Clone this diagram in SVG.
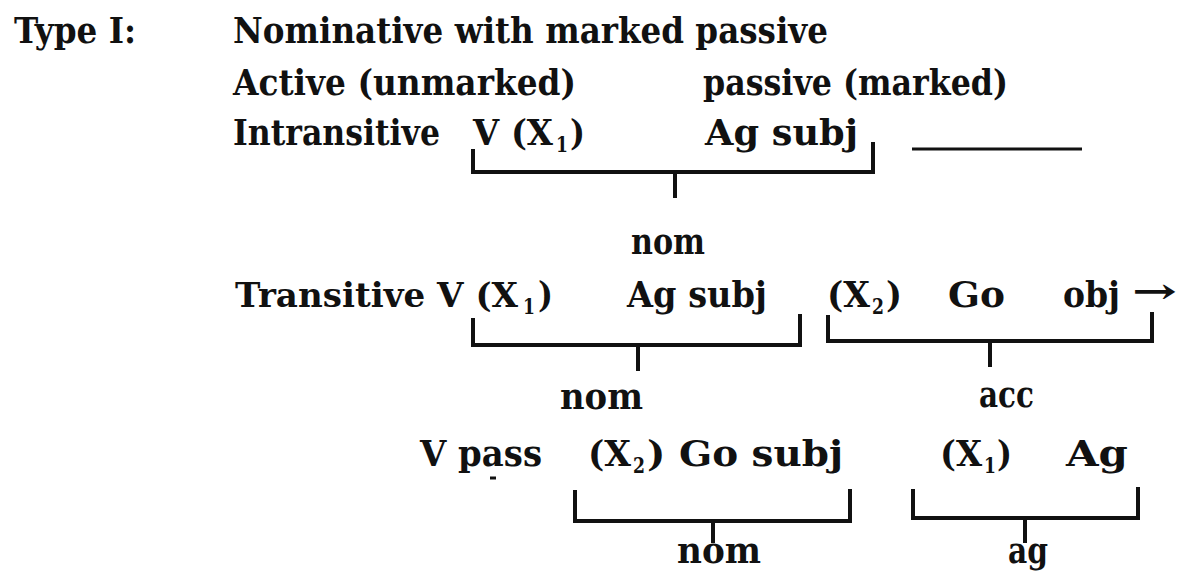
<svg xmlns="http://www.w3.org/2000/svg" width="1189" height="574" viewBox="0 0 1189 574">
<style>
text{font-family:"DejaVu Serif","Liberation Serif",serif;font-weight:bold;font-size:35px;fill:#111}
text.sub{font-size:22px}
.br{fill:none;stroke:#111;stroke-width:4;stroke-linejoin:miter;stroke-linecap:butt}
.ln{fill:none;stroke:#111;stroke-width:3}
</style>
<rect width="1189" height="574" fill="#fff"/>
<g id="header">
<text x="14" y="43" textLength="122" lengthAdjust="spacingAndGlyphs">Type I:</text>
<text x="233" y="43" textLength="595" lengthAdjust="spacingAndGlyphs">Nominative with marked passive</text>
</g>
<g id="row-active">
<text x="233" y="95" textLength="343" lengthAdjust="spacingAndGlyphs">Active (unmarked)</text>
<text x="703" y="95" textLength="305" lengthAdjust="spacingAndGlyphs">passive (marked)</text>
</g>
<g id="row-intransitive">
<text x="233" y="145" textLength="207" lengthAdjust="spacingAndGlyphs">Intransitive</text>
<text x="473" y="145" textLength="80" lengthAdjust="spacingAndGlyphs">V (X</text>
<text class="sub" x="556" y="152" textLength="12" lengthAdjust="spacingAndGlyphs">1</text>
<text x="570" y="145" textLength="15" lengthAdjust="spacingAndGlyphs">)</text>
<text x="705" y="145" textLength="153" lengthAdjust="spacingAndGlyphs">Ag subj</text>
</g>
<g id="nom-1"><text x="631" y="254" textLength="74" lengthAdjust="spacingAndGlyphs">nom</text></g>
<g id="row-transitive">
<text x="235" y="307" textLength="283" lengthAdjust="spacingAndGlyphs" style="font-size:33px">Transitive V (X</text>
<text class="sub" x="523" y="314" textLength="12" lengthAdjust="spacingAndGlyphs">1</text>
<text x="538" y="307" textLength="15" lengthAdjust="spacingAndGlyphs">)</text>
<text x="627" y="307" textLength="140" lengthAdjust="spacingAndGlyphs">Ag subj</text>
<text x="827" y="307" textLength="43" lengthAdjust="spacingAndGlyphs">(X</text>
<text class="sub" x="872" y="314" textLength="12" lengthAdjust="spacingAndGlyphs">2</text>
<text x="886" y="307" textLength="16" lengthAdjust="spacingAndGlyphs">)</text>
<text x="948" y="307" textLength="57" lengthAdjust="spacingAndGlyphs">Go</text>
<text x="1063" y="307" textLength="57" lengthAdjust="spacingAndGlyphs">obj</text>
<text x="1132" y="303" textLength="45" lengthAdjust="spacingAndGlyphs">→</text>
</g>
<g id="nom-2"><text x="560" y="409" textLength="83" lengthAdjust="spacingAndGlyphs">nom</text></g>
<g id="acc"><text x="979" y="407" textLength="55" lengthAdjust="spacingAndGlyphs">acc</text></g>
<g id="row-passive">
<text x="420" y="466" textLength="122" lengthAdjust="spacingAndGlyphs">V pass</text>
<text x="588" y="466" textLength="43" lengthAdjust="spacingAndGlyphs">(X</text>
<text class="sub" x="633" y="473" textLength="12" lengthAdjust="spacingAndGlyphs">2</text>
<text x="647" y="466" textLength="196" lengthAdjust="spacingAndGlyphs">) Go subj</text>
<text x="940" y="466" textLength="42" lengthAdjust="spacingAndGlyphs">(X</text>
<text class="sub" x="984" y="473" textLength="12" lengthAdjust="spacingAndGlyphs">1</text>
<text x="997" y="466" textLength="15" lengthAdjust="spacingAndGlyphs">)</text>
<text x="1066" y="466" textLength="62" lengthAdjust="spacingAndGlyphs">Ag</text>
</g>
<g id="nom-3"><text x="677" y="563" textLength="84" lengthAdjust="spacingAndGlyphs">nom</text></g>
<g id="ag"><text x="1008" y="563" textLength="40" lengthAdjust="spacingAndGlyphs">ag</text></g>
<g id="connectors">
<path class="br" d="M473,149 V172 H873 V142 M675,172 V198"/>
<path class="ln" d="M912,149 H1082"/>
<path class="br" d="M473,318 V345 H800 V314 M638,345 V371"/>
<path class="br" d="M828,315 V341 H1152 V312 M990,341 V367"/>
<path class="br" d="M575,490 V521 H850 V489 M713,521 V543"/>
<path class="br" d="M913,489 V518 H1138 V487 M1025,518 V543"/>
<path class="ln" d="M490,478 H496" stroke-width="2"/>
</g>
</svg>
